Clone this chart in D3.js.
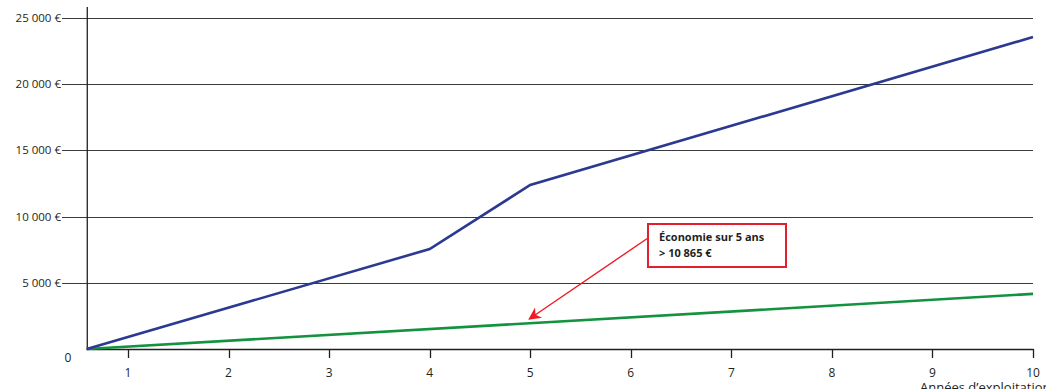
<!DOCTYPE html>
<html>
<head>
<meta charset="utf-8">
<script src="https://cdn.jsdelivr.net/npm/d3@7"></script>
<style>
  body { margin: 0; background: #fff; }
  text { font-family: "Open Sans", "Noto Sans", sans-serif; fill: #231f20; }
</style>
</head>
<body>
<svg id="chart" width="1046" height="389"></svg>
<script>
// data
const years = [1, 2, 3, 4, 5, 6, 7, 8, 9, 10];
const yTicks = [5000, 10000, 15000, 20000, 25000];
const xStart = 0.59; // year value where the vertical axis sits
const blueSeries = [[xStart, 0], [4, 7550], [5, 12390], [10, 23560]];
const greenSeries = [[xStart, 0], [10, 4160]];
const noteLines = ['Économie sur 5 ans', '> 10 865 €'];
const notePoint = [5, 2040];

const svg = d3.select('#chart');
const x = d3.scaleLinear().domain([1, 10]).range([128, 1033]);
const y = d3.scaleLinear().domain([0, 25000]).range([349, 18]);
const x0 = x(xStart);

const fmt = (v) => d3.format(',')(v).replace(/,/g, ' ') + ' €';

// horizontal gridlines with their labels
const grid = svg.append('g');
yTicks.forEach((v) => {
  grid.append('line')
    .attr('x1', 62).attr('x2', x(10))
    .attr('y1', Math.round(y(v)) + 0.5).attr('y2', Math.round(y(v)) + 0.5)
    .attr('stroke', '#3a3a3a').attr('stroke-width', 1);
  grid.append('text')
    .attr('x', 61).attr('y', Math.round(y(v)) + 4)
    .attr('text-anchor', 'end')
    .attr('font-size', 11.5)
    .text(fmt(v));
});
grid.append('text').attr('x', 68).attr('y', 362).attr('text-anchor', 'middle').attr('font-size', 12).text('0');

// axes
svg.append('line')
  .attr('x1', x0 + 0.5).attr('x2', x0 + 0.5).attr('y1', 7).attr('y2', y(0) + 1)
  .attr('stroke', '#231f20').attr('stroke-width', 1.3);
svg.append('line')
  .attr('x1', x0).attr('x2', x(10) + 0.5).attr('y1', y(0) + 0.5).attr('y2', y(0) + 0.5)
  .attr('stroke', '#231f20').attr('stroke-width', 1.3);
years.forEach((d) => {
  svg.append('line')
    .attr('x1', Math.round(x(d)) + 0.5).attr('x2', Math.round(x(d)) + 0.5)
    .attr('y1', y(0)).attr('y2', y(0) + 9)
    .attr('stroke', '#231f20').attr('stroke-width', 1.3);
  svg.append('text')
    .attr('x', x(d)).attr('y', 377)
    .attr('text-anchor', 'middle').attr('font-size', 12)
    .text(d);
});
svg.append('text')
  .attr('x', 920).attr('y', 392).attr('font-size', 13)
  .text('Années d’exploitation');

// lines
const line = d3.line().x((d) => x(d[0])).y((d) => y(d[1]));
svg.append('path').attr('d', line(greenSeries))
  .attr('fill', 'none').attr('stroke', '#13923f').attr('stroke-width', 2.6);
svg.append('path').attr('d', line(blueSeries))
  .attr('fill', 'none').attr('stroke', '#2b3990').attr('stroke-width', 2.6);

// annotation
const defs = svg.append('defs');
defs.append('marker')
  .attr('id', 'arrow').attr('viewBox', '0 0 10 10')
  .attr('refX', 9).attr('refY', 5)
  .attr('markerWidth', 10).attr('markerHeight', 9)
  .attr('markerUnits', 'strokeWidth')
  .attr('orient', 'auto')
  .append('path').attr('d', 'M0,0 L10,5 L0,10 L3,5 Z').attr('fill', '#ed1c24');

const box = { x: 648, y: 224, w: 138, h: 43 };
const tipX = x(notePoint[0]) - 1;
const tipY = y(notePoint[1]) - 3;
svg.append('line')
  .attr('x1', box.x).attr('y1', 238)
  .attr('x2', tipX).attr('y2', tipY)
  .attr('stroke', '#ed1c24').attr('stroke-width', 1.4)
  .attr('marker-end', 'url(#arrow)');
svg.append('rect')
  .attr('x', box.x).attr('y', box.y).attr('width', box.w).attr('height', box.h)
  .attr('fill', '#fff').attr('stroke', '#e31e2d').attr('stroke-width', 2);
noteLines.forEach((t, i) => {
  svg.append('text')
    .attr('x', box.x + 11).attr('y', box.y + 17 + i * 16)
    .attr('font-size', 11).attr('font-weight', 'bold')
    .text(t);
});
</script>
</body>
</html>
